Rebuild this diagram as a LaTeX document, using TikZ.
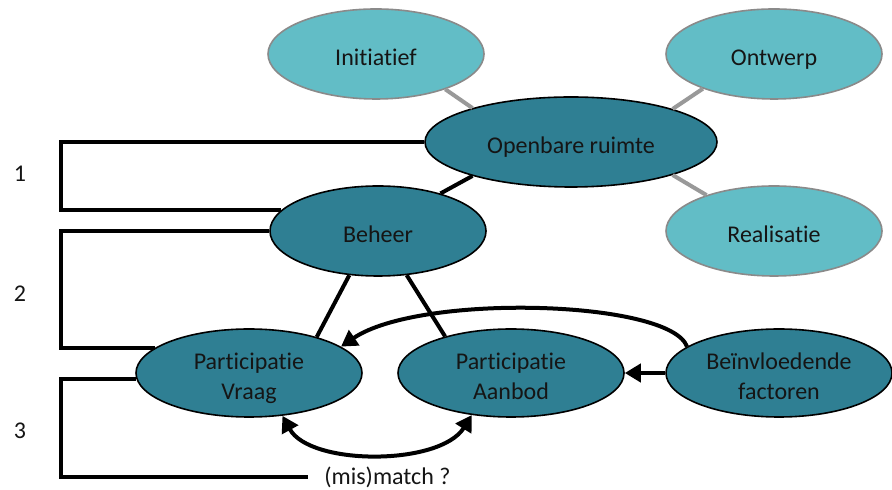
\documentclass[tikz,border=0pt]{standalone}
\usepackage{fontspec}
\setmainfont{Carlito}[Ligatures={NoCommon}]
\usetikzlibrary{arrows.meta,shapes.geometric,calc}
\definecolor{darkteal}{HTML}{2F7F93}
\definecolor{lightteal}{HTML}{62BDC6}
\definecolor{txt}{HTML}{151515}
\definecolor{grayline}{HTML}{999999}
\definecolor{grayborder}{HTML}{8A8A8A}
\newcommand{\lowtext}[1]{\raisebox{-2.8pt}[\height][\depth]{\begin{tabular}{@{}c@{}}#1\end{tabular}}}
\begin{document}
\begin{tikzpicture}[x=0.5pt,y=-0.5pt,
  lbl/.style={font=\fontsize{12}{15}\selectfont, text=txt},
  dark/.style={ellipse, draw=black, line width=0.8pt, fill=darkteal, inner sep=0pt, lbl},
  light/.style={ellipse, draw=grayborder, line width=0.8pt, fill=lightteal, inner sep=0pt, lbl},
  blk/.style={draw=black, line width=2pt, line join=miter},
  gry/.style={draw=grayline, line width=2pt},
  arr/.style={draw=black, line width=2pt, -{Triangle[length=8pt,width=9pt]}},
  darr/.style={draw=black, line width=2pt, {Triangle[length=8pt,width=9pt]}-{Triangle[length=8pt,width=9pt]}}
]
\useasboundingbox (0,0) rectangle (892,490);
\fill[white] (0,0) rectangle (892,490);

% nodes
\node[light, minimum width=108pt, minimum height=45pt] (ini) at (376,54) {\lowtext{Initiatief}};
\node[light, minimum width=108pt, minimum height=45pt] (ont) at (774,54) {\lowtext{Ontwerp}};
\node[light, minimum width=108pt, minimum height=45pt] (rea) at (774,231) {\lowtext{Realisatie}};
\node[dark, minimum width=146pt, minimum height=45pt] (or) at (571,142) {\lowtext{Openbare ruimte}};
\node[dark, minimum width=108pt, minimum height=45pt] (bh) at (378,231) {\lowtext{Beheer}};
\node[dark, minimum width=113pt, minimum height=44pt] (pv) at (249,373) {\lowtext{Participatie\\Vraag}};
\node[dark, minimum width=113pt, minimum height=44pt] (pa) at (511,373) {\lowtext{Participatie\\Aanbod}};
\node[dark, minimum width=113pt, minimum height=44pt] (bf) at (779,373) {\lowtext{Beïnvloedende\\factoren}};
\node[lbl, anchor=west, inner sep=0pt] (mm) at (324,477) {(mis)match ?};

\node[lbl] (n1) at (20,174) {1};
\node[lbl] (n2) at (20,294) {2};
\node[lbl] (n3) at (20,431) {3};

\coordinate (lx) at (61,0);

% brackets
\draw[blk] (or.west) -- (or.west -| lx) |- (bh.168);
\draw[blk] (bh.west) -- (bh.west -| lx) |- (pv.165);
\draw[blk] (pv.183) -- (pv.183 -| lx) |- ($(mm.west)+(-16,0)$);

% gray connectors
\draw[gry] (ini.-27) -- (or.161);
\draw[gry] (ont.206) -- (or.18);
\draw[gry] (rea.152) -- (or.-18);

% black connectors
\draw[blk] (or.199) -- (bh.31);
\draw[blk] (bh.-123) -- (pv.28);
\draw[blk] (bh.-57) -- (pa.151);

% arrows
\draw[arr] (bf.west) -- (pa.east);
\draw[arr] (bf.164) .. controls (670,300) and (420,293) .. (pv.16);
\draw[darr] (pv.-52) .. controls (310,466) and (440,466) .. (pa.-133);
\end{tikzpicture}
\end{document}
